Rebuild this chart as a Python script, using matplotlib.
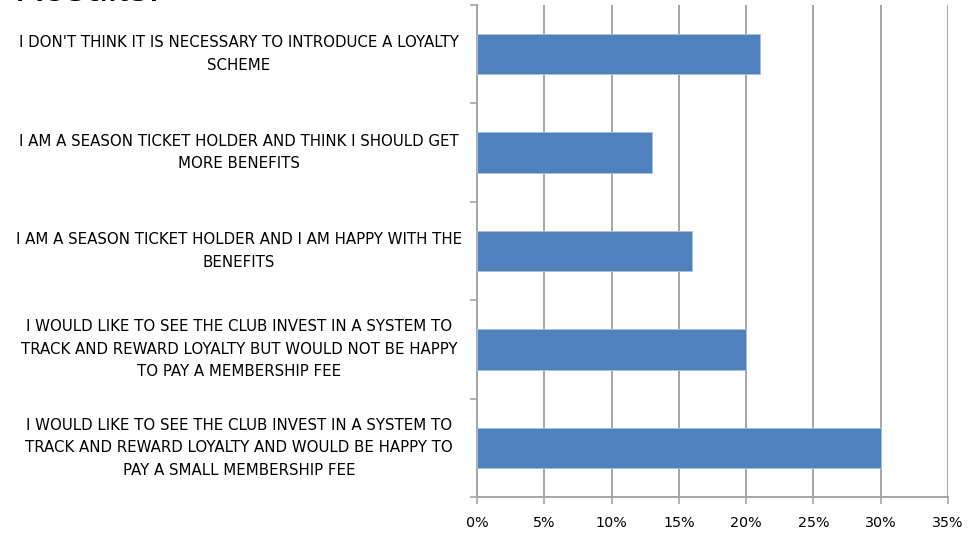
import matplotlib.pyplot as plt
import matplotlib.transforms as mtransforms
import numpy as np

# survey answers, top to bottom
answers = [
    "I DON'T THINK IT IS NECESSARY TO INTRODUCE A LOYALTY\nSCHEME",
    "I AM A SEASON TICKET HOLDER AND THINK I SHOULD GET\nMORE BENEFITS",
    "I AM A SEASON TICKET HOLDER AND I AM HAPPY WITH THE\nBENEFITS",
    "I WOULD LIKE TO SEE THE CLUB INVEST IN A SYSTEM TO\nTRACK AND REWARD LOYALTY BUT WOULD NOT BE HAPPY\nTO PAY A MEMBERSHIP FEE",
    "I WOULD LIKE TO SEE THE CLUB INVEST IN A SYSTEM TO\nTRACK AND REWARD LOYALTY AND WOULD BE HAPPY TO\nPAY A SMALL MEMBERSHIP FEE",
]
share = [21, 13, 16, 20, 30]   # percent of respondents
xticks = [0, 5, 10, 15, 20, 25, 30, 35]

label_font = ['Liberation Sans Narrow', 'DejaVu Sans Condensed', 'DejaVu Sans']
grey = '#A6A6A6'

fig = plt.figure(figsize=(9.73, 5.35), dpi=100)
ax = fig.add_axes([477 / 973, 1 - 497 / 535, (948 - 477) / 973, (497 - 5) / 535])

pos = np.arange(len(answers))
ax.barh(pos, share, height=0.41, color='#4F81BD', edgecolor='#A9C1E0',
        linewidth=0.7, zorder=3)

ax.set_xlim(0, 35)
ax.set_ylim(len(answers) - 0.5, -0.5)

ax.set_xticks(xticks)
ax.set_xticklabels([f'{t}%' for t in xticks], family=label_font, fontsize=10.3)
ax.set_yticks(np.arange(len(answers) + 1) - 0.5)
ax.set_yticklabels([])

ax.grid(axis='x', color=grey, linewidth=1.4, zorder=0)
ax.tick_params(axis='x', direction='out', length=5, width=1.2, color=grey, pad=9)
ax.tick_params(axis='y', direction='out', length=5, width=1.2, color=grey)

for side in ['top', 'right']:
    ax.spines[side].set_visible(False)
for side in ['left', 'bottom']:
    ax.spines[side].set_color(grey)
    ax.spines[side].set_linewidth(1.4)

# category labels, centred in the band left of the axis
trans = mtransforms.blended_transform_factory(fig.transFigure, ax.transData)
for i, text in enumerate(answers):
    ax.text(239 / 973, i, text, transform=trans, ha='center', va='center',
            multialignment='center', family=label_font, fontsize=10.8,
            linespacing=1.62, color='#000000')

# heading sits above the figure, only its foot shows
fig.text(15 / 973, 1 - 1 / 535, 'Results:', ha='left', va='baseline',
         fontsize=29, family=['Liberation Sans', 'DejaVu Sans'])

fig.savefig('out.png', dpi=100)
